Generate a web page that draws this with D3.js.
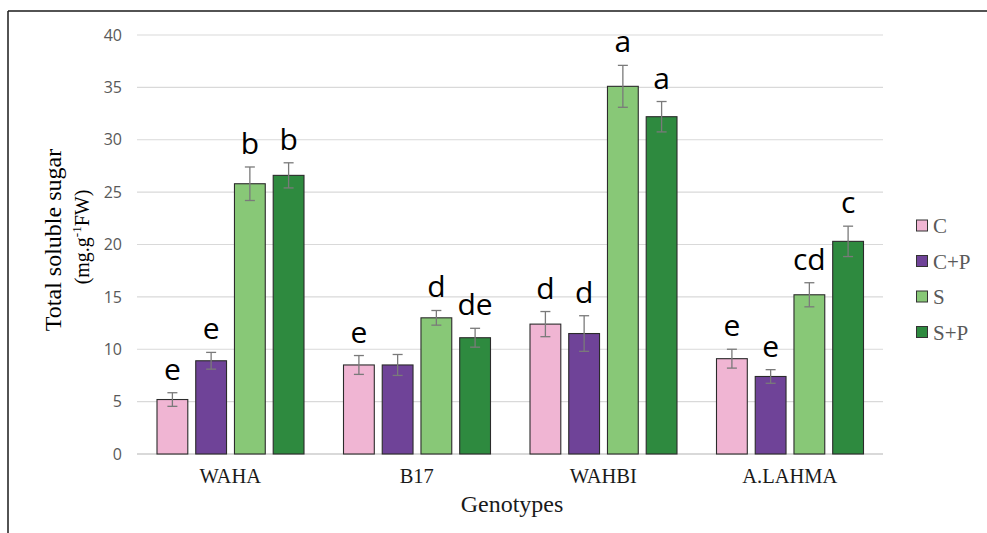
<!DOCTYPE html>
<html>
<head>
<meta charset="utf-8">
<script src="https://cdn.jsdelivr.net/npm/d3@7"></script>
<style>
  html, body { margin: 0; padding: 0; background: #fff; }
  svg { display: block; }
</style>
</head>
<body>
<svg id="chart" width="987" height="533"></svg>
<script>
// ---- data ----
const categories = ["WAHA", "B17", "WAHBI", "A.LAHMA"];
const seriesNames = ["C", "C+P", "S", "S+P"];
const valuesC   = [5.2, 8.5, 12.4, 9.1];
const valuesCP  = [8.9, 8.5, 11.5, 7.4];
const valuesS   = [25.8, 13.0, 35.1, 15.2];
const valuesSP  = [26.6, 11.1, 32.2, 20.3];
const errC  = [0.65, 0.9, 1.2, 0.9];
const errCP = [0.8, 1.0, 1.7, 0.65];
const errS  = [1.6, 0.7, 2.0, 1.15];
const errSP = [1.2, 0.9, 1.45, 1.45];
const lettersC  = ["e", "e", "d", "e"];
const lettersCP = ["e", "", "d", "e"];
const lettersS  = ["b", "d", "a", "cd"];
const lettersSP = ["b", "de", "a", "c"];
const yTicks = [0, 5, 10, 15, 20, 25, 30, 35, 40];
const colors = ["#F0B5D3", "#6F4398", "#88C877", "#2E8A3F"];

const seriesValues = [valuesC, valuesCP, valuesS, valuesSP];
const seriesErr = [errC, errCP, errS, errSP];
const seriesLetters = [lettersC, lettersCP, lettersS, lettersSP];

const svg = d3.select("#chart");

// frame lines
svg.append("line").attr("x1", 8).attr("x2", 987).attr("y1", 11).attr("y2", 11)
  .attr("stroke", "#1a1a1a").attr("stroke-width", 1.5);
svg.append("line").attr("x1", 8).attr("x2", 8).attr("y1", 11).attr("y2", 533)
  .attr("stroke", "#1a1a1a").attr("stroke-width", 1.5);

const x0 = d3.scaleBand().domain(categories).range([137, 883]).padding(0);
const x1 = d3.scaleBand().domain(seriesNames).range([20, 167]).paddingInner(0.205).paddingOuter(0);
const y = d3.scaleLinear().domain([0, 40]).range([454, 35]);

// gridlines
svg.append("g").selectAll("line").data(yTicks).join("line")
  .attr("x1", 137).attr("x2", 883)
  .attr("y1", d => y(d)).attr("y2", d => y(d))
  .attr("stroke", "#d9d9d9").attr("stroke-width", d => d === 0 ? 1.8 : 1.2);

// y axis tick labels
const yAxis = svg.append("g").attr("transform", "translate(137,0)")
  .call(d3.axisLeft(y).tickValues(yTicks).tickSize(0).tickPadding(15));
yAxis.select(".domain").remove();
yAxis.selectAll("text").attr("font-family", "'Open Sans', sans-serif")
  .attr("font-size", 16).attr("fill", "#595959");

// x axis labels
const xAxis = svg.append("g").attr("transform", "translate(0,454)")
  .call(d3.axisBottom(x0).tickSize(0).tickPadding(14));
xAxis.select(".domain").remove();
xAxis.selectAll("text").attr("font-family", "'Liberation Serif', 'Times New Roman', serif")
  .attr("font-size", 20.5).attr("fill", "#1a1a1a");

// bars
const rows = [];
categories.forEach((c, i) => {
  seriesNames.forEach((s, j) => {
    rows.push({cat: c, ser: s, j, v: seriesValues[j][i], e: seriesErr[j][i], l: seriesLetters[j][i]});
  });
});

const g = svg.append("g");
g.selectAll("rect").data(rows).join("rect")
  .attr("x", d => x0(d.cat) + x1(d.ser))
  .attr("y", d => y(d.v))
  .attr("width", x1.bandwidth())
  .attr("height", d => y(0) - y(d.v))
  .attr("fill", d => colors[d.j])
  .attr("stroke", "#2b2b2b").attr("stroke-width", 1.1);

// error bars
const eb = g.append("g").attr("stroke", "#7a7a7a").attr("stroke-width", 1.3);
rows.forEach(d => {
  const cx = x0(d.cat) + x1(d.ser) + x1.bandwidth() / 2;
  eb.append("line").attr("x1", cx).attr("x2", cx).attr("y1", y(d.v + d.e)).attr("y2", y(d.v - d.e));
  eb.append("line").attr("x1", cx - 5).attr("x2", cx + 5).attr("y1", y(d.v + d.e)).attr("y2", y(d.v + d.e));
  eb.append("line").attr("x1", cx - 5).attr("x2", cx + 5).attr("y1", y(d.v - d.e)).attr("y2", y(d.v - d.e));
});

// significance letters
g.selectAll("text.sig").data(rows.filter(d => d.l)).join("text")
  .attr("class", "sig")
  .attr("x", d => x0(d.cat) + x1(d.ser) + x1.bandwidth() / 2)
  .attr("y", d => y(d.v + d.e) - 13)
  .attr("text-anchor", "middle")
  .attr("font-family", "'Open Sans', sans-serif")
  .attr("font-size", 30)
  .attr("fill", "#000")
  .text(d => d.l);

// axis titles
svg.append("text")
  .attr("transform", "translate(61,240) rotate(-90)")
  .attr("text-anchor", "middle")
  .attr("font-family", "'Liberation Serif', 'Times New Roman', serif")
  .attr("font-size", 24).attr("fill", "#000")
  .text("Total soluble sugar");
const t2 = svg.append("text")
  .attr("transform", "translate(89,237) rotate(-90)")
  .attr("text-anchor", "middle")
  .attr("font-family", "'Liberation Serif', 'Times New Roman', serif")
  .attr("font-size", 20).attr("fill", "#000");
t2.append("tspan").text("(mg.g");
t2.append("tspan").attr("font-size", 13).attr("dy", -8).text("-1");
t2.append("tspan").attr("dy", 8).text("FW)");

svg.append("text")
  .attr("x", 512).attr("y", 512)
  .attr("text-anchor", "middle")
  .attr("font-family", "'Liberation Serif', 'Times New Roman', serif")
  .attr("font-size", 24).attr("fill", "#1a1a1a")
  .text("Genotypes");

// legend
const lg = svg.append("g");
seriesNames.forEach((s, j) => {
  const cy = 226 + j * 35.5;
  lg.append("rect").attr("x", 916.5).attr("y", cy - 6).attr("width", 11).attr("height", 11)
    .attr("fill", colors[j]).attr("stroke", "#333").attr("stroke-width", 1);
  lg.append("text").attr("x", 933).attr("y", cy + 7)
    .attr("font-family", "'Liberation Serif', 'Times New Roman', serif")
    .attr("font-size", 21).attr("fill", "#595959").text(s);
});
</script>
</body>
</html>
